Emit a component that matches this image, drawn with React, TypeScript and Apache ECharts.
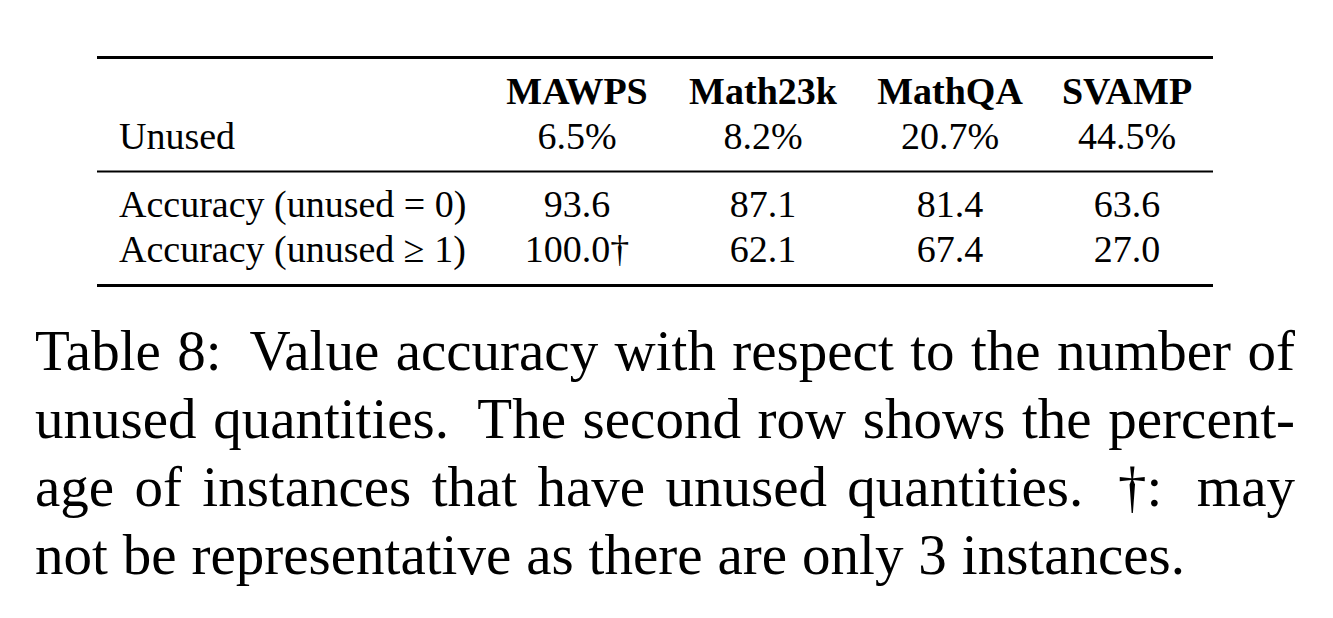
import React, { useEffect, useRef } from "react";
import * as echarts from "echarts";

const columns = ["MAWPS", "Math23k", "MathQA", "SVAMP"];
const rowLabels = ["Unused", "Accuracy (unused = 0)", "Accuracy (unused \u2265 1)"];
const unusedPct = [6.5, 8.2, 20.7, 44.5];
const accUnused0 = [93.6, 87.1, 81.4, 63.6];
const accUnused1 = [100.0, 62.1, 67.4, 27.0];
const accUnused1Dagger = [true, false, false, false];
const captionLines = [
  ["Table", "8:", "Value", "accuracy", "with", "respect", "to", "the", "number", "of"],
  ["unused", "quantities.", "The", "second", "row", "shows", "the", "percent-"],
  ["age", "of", "instances", "that", "have", "unused", "quantities.", "\u2020:", "may"],
  ["not", "be", "representative", "as", "there", "are", "only", "3", "instances."],
];

const FAMILY = "'Liberation Serif', 'Times New Roman', serif";

function txt(text: string, x: number, y: number, size: number, align: string, bold = false) {
  const font = `${bold ? "bold " : ""}${size}px ${FAMILY}`;
  return {
    type: "text",
    x,
    y,
    silent: true,
    style: {
      text,
      font,
      fill: "#000",
      textAlign: align,
      textVerticalAlign: "middle",
      align,
      verticalAlign: "middle",
    },
  };
}

export default function App() {
  const ref = useRef<HTMLDivElement>(null);
  useEffect(() => {
    if (!ref.current) return;
    const chart = echarts.init(ref.current, undefined, { renderer: "svg" });
    const canvas = document.createElement("canvas");
    const ctx = canvas.getContext("2d")!;

    const els: any[] = [];
    // rules
    const L = 97, R = 1213;
    els.push({ type: "line", shape: { x1: L, y1: 57.5, x2: R, y2: 57.5 }, style: { stroke: "#000", lineWidth: 3 } });
    els.push({ type: "line", shape: { x1: L, y1: 171.5, x2: R, y2: 171.5 }, style: { stroke: "#000", lineWidth: 2 } });
    els.push({ type: "line", shape: { x1: L, y1: 285.5, x2: R, y2: 285.5 }, style: { stroke: "#000", lineWidth: 3 } });

    const fs = 38;
    const off = 0.3375 * fs;
    const colX = [577, 763, 950, 1127];
    const base = [104, 149, 217, 262];
    columns.forEach((c, i) => els.push(txt(c, colX[i], base[0] - off, fs, "center", true)));
    els.push(txt(rowLabels[0], 119, base[1] - off, fs, "left"));
    unusedPct.forEach((v, i) => els.push(txt(`${v.toFixed(1)}%`, colX[i], base[1] - off, fs, "center")));
    els.push(txt(rowLabels[1], 119, base[2] - off, fs, "left"));
    accUnused0.forEach((v, i) => els.push(txt(v.toFixed(1), colX[i], base[2] - off, fs, "center")));
    els.push(txt(rowLabels[2], 119, base[3] - off, fs, "left"));
    accUnused1.forEach((v, i) =>
      els.push(txt(v.toFixed(1) + (accUnused1Dagger[i] ? "\u2020" : ""), colX[i], base[3] - off, fs, "center"))
    );

    // caption, justified
    const cfs = 57;
    const coff = 0.3375 * cfs;
    ctx.font = `${cfs}px ${FAMILY}`;
    const left = 35, right = 1295;
    const capBase = [370, 438, 506, 574];
    const spaceW = ctx.measureText(" ").width;
    captionLines.forEach((words, li) => {
      const widths = words.map((w) => ctx.measureText(w).width);
      const weights = words.slice(0, -1).map((w) => (/[.:]$/.test(w) ? 1.7 : 1));
      const total = widths.reduce((a, b) => a + b, 0);
      const wsum = weights.reduce((a, b) => a + b, 0);
      const last = li === captionLines.length - 1;
      const unit = last ? spaceW * 1.05 : (right - left - total) / wsum;
      let x = left;
      words.forEach((w, i) => {
        els.push(txt(w, x, capBase[li] - coff, cfs, "left"));
        x += widths[i] + (i < weights.length ? unit * (last ? 1 : weights[i]) : 0);
      });
    });

    chart.setOption({
      animation: false,
      backgroundColor: "#fff",
      graphic: { elements: els },
    });
    return () => chart.dispose();
  }, []);
  return (
    <div
      ref={ref}
      style={{ position: "fixed", left: 0, top: 0, width: 1333, height: 618, background: "#fff" }}
    />
  );
}
